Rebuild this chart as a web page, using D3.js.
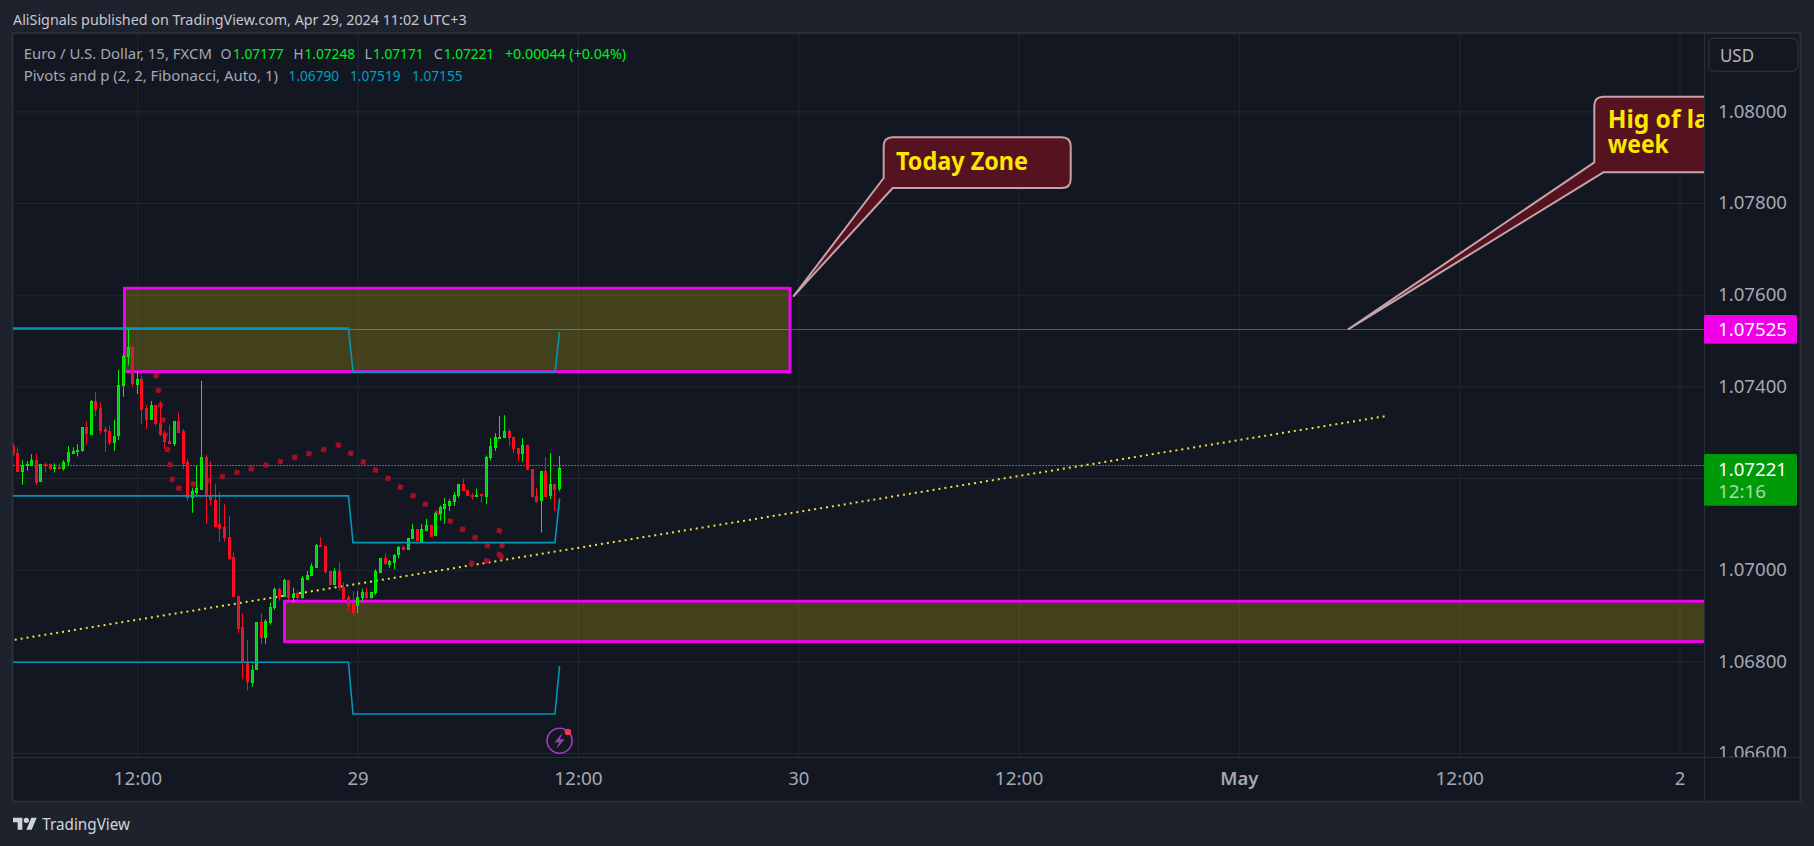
<!DOCTYPE html>
<html>
<head>
<meta charset="utf-8">
<title>EUR/USD 15</title>
<script src="https://cdn.jsdelivr.net/npm/d3@7"></script>
<style>
  html, body { margin: 0; padding: 0; background: #1e222d; overflow: hidden; }
  svg { display: block; }
  text { font-family: "Noto Sans", Lato, sans-serif; }
</style>
</head>
<body>
<div id="main"></div>
<script>
// bars are counted in 15 min steps from Apr 28 12:00
const firstBar = -27

const opens = [
  1.07270,1.07254,1.07214,1.07228,1.07228,1.07239,1.07192,1.07231,1.07231,1.07223,
  1.07225,1.07223,1.07236,1.07255,1.07260,1.07260,1.07311,1.07297,1.07369,1.07352,
  1.07306,1.07302,1.07279,1.07292,1.07402,1.07465,1.07485,1.07406,1.07417,1.07352,
  1.07329,1.07359,1.07319,1.07295,1.07281,1.07277,1.07324,1.07302,1.07234,1.07157,
  1.07170,1.07176,1.07245,1.07162,1.07153,1.07100,1.07092,1.07071,1.07027,1.06942,
  1.06874,1.06798,1.06756,1.06782,1.06885,1.06852,1.06886,1.06917,1.06957,1.06941,
  1.06977,1.06939,1.06948,1.06940,1.06980,1.06987,1.07006,1.07053,1.07051,1.06996,
  1.06967,1.06996,1.06963,1.06940,1.06924,1.06923,1.06939,1.06951,1.06939,1.06950,
  1.06995,1.07025,1.07013,1.07017,1.07033,1.07049,1.07044,1.07068,1.07088,1.07062,
  1.07087,1.07097,1.07074,1.07122,1.07135,1.07141,1.07148,1.07161,1.07186,1.07173,
  1.07162,1.07159,1.07164,1.07159,1.07244,1.07268,1.07288,1.07288,1.07302,1.07289,
  1.07265,1.07253,1.07271,1.07219,1.07161,1.07151,1.07215,1.07161,1.07186,1.07177
]
const highs = [
  1.07276,1.07267,1.07239,1.07237,1.07252,1.07252,1.07230,1.07233,1.07232,1.07232,
  1.07232,1.07239,1.07270,1.07267,1.07274,1.07311,1.07324,1.07370,1.07387,1.07365,
  1.07312,1.07315,1.07327,1.07436,1.07471,1.07527,1.07488,1.07432,1.07424,1.07359,
  1.07368,1.07359,1.07368,1.07304,1.07316,1.07324,1.07343,1.07307,1.07241,1.07179,
  1.07228,1.07412,1.07250,1.07237,1.07187,1.07169,1.07143,1.07117,1.07038,1.06942,
  1.06905,1.06846,1.06792,1.06885,1.06905,1.06892,1.06928,1.06961,1.06961,1.06980,
  1.06977,1.06961,1.06953,1.06986,1.06997,1.07014,1.07056,1.07071,1.07051,1.06996,
  1.07003,1.07017,1.06972,1.06944,1.06953,1.06953,1.06958,1.06961,1.06952,1.07001,
  1.07025,1.07036,1.07021,1.07034,1.07052,1.07052,1.07068,1.07100,1.07088,1.07099,
  1.07111,1.07097,1.07126,1.07140,1.07156,1.07154,1.07169,1.07187,1.07198,1.07173,
  1.07167,1.07177,1.07164,1.07249,1.07287,1.07298,1.07335,1.07337,1.07306,1.07289,
  1.07265,1.07287,1.07273,1.07219,1.07178,1.07215,1.07246,1.07254,1.07188,1.07248
]
const lows = [
  1.07247,1.07214,1.07185,1.07216,1.07226,1.07185,1.07192,1.07212,1.07217,1.07212,
  1.07223,1.07216,1.07227,1.07252,1.07247,1.07257,1.07272,1.07294,1.07335,1.07296,
  1.07257,1.07272,1.07259,1.07283,1.07377,1.07447,1.07399,1.07383,1.07318,1.07307,
  1.07327,1.07314,1.07292,1.07263,1.07277,1.07270,1.07301,1.07220,1.07150,1.07124,
  1.07159,1.07174,1.07100,1.07141,1.07092,1.07061,1.07061,1.07020,1.06941,1.06862,
  1.06761,1.06737,1.06745,1.06782,1.06838,1.06838,1.06880,1.06912,1.06932,1.06940,
  1.06934,1.06929,1.06929,1.06937,1.06980,1.06986,1.07006,1.07049,1.06991,1.06966,
  1.06966,1.06954,1.06934,1.06908,1.06900,1.06905,1.06930,1.06936,1.06937,1.06945,
  1.06995,1.07010,1.07004,1.07001,1.07025,1.07044,1.07044,1.07068,1.07062,1.07060,
  1.07085,1.07074,1.07074,1.07107,1.07100,1.07128,1.07139,1.07157,1.07172,1.07161,
  1.07153,1.07159,1.07146,1.07143,1.07238,1.07259,1.07288,1.07288,1.07270,1.07254,
  1.07237,1.07235,1.07219,1.07159,1.07146,1.07081,1.07161,1.07154,1.07128,1.07171
]
const closes = [
  1.07254,1.07214,1.07228,1.07231,1.07239,1.07192,1.07230,1.07229,1.07223,1.07224,
  1.07223,1.07236,1.07256,1.07259,1.07261,1.07311,1.07297,1.07369,1.07351,1.07305,
  1.07301,1.07279,1.07292,1.07402,1.07466,1.07485,1.07406,1.07417,1.07351,1.07329,
  1.07359,1.07319,1.07295,1.07280,1.07277,1.07324,1.07301,1.07233,1.07158,1.07171,
  1.07178,1.07245,1.07163,1.07153,1.07097,1.07092,1.07070,1.07026,1.06941,1.06873,
  1.06797,1.06756,1.06782,1.06885,1.06852,1.06887,1.06918,1.06957,1.06941,1.06977,
  1.06940,1.06946,1.06939,1.06981,1.06988,1.07007,1.07053,1.07052,1.06996,1.06967,
  1.06996,1.06962,1.06939,1.06923,1.06906,1.06940,1.06951,1.06939,1.06951,1.06996,
  1.07025,1.07013,1.07019,1.07033,1.07049,1.07044,1.07068,1.07088,1.07063,1.07088,
  1.07097,1.07074,1.07123,1.07136,1.07143,1.07149,1.07162,1.07186,1.07172,1.07161,
  1.07159,1.07162,1.07163,1.07245,1.07269,1.07289,1.07289,1.07302,1.07289,1.07264,
  1.07253,1.07271,1.07219,1.07159,1.07151,1.07215,1.07161,1.07186,1.07174,1.07221
]

// pivots indicator, flat per session with one bar of slope on the change
const pivotBars = [-30, 46, 47, 91, 92]
const pivotHigh = [1.07527, 1.07527, 1.07431, 1.07431, 1.07519]
const pivotMid  = [1.07161, 1.07161, 1.07059, 1.07059, 1.07155]
const pivotLow  = [1.06798, 1.06798, 1.06685, 1.06685, 1.06790]

// hand drawn curved arrow made of square dots
const dotBars = [4.07,4.6,5.09,5.6,6.1,6.62,7.12,7.63,9.02,12.2,15.33,18.52,21.72,24.84,27.97,31.16,34.3,37.41,40.6,43.81,
  46.49,49.24,51.94,54.62,57.32,60.07,62.75,65.44,68.2,70.88,73.59,76.27,78.87,78.87,79.46,79.3,76.13,72.85]
const dotPrices = [1.07423,1.07391,1.07359,1.07327,1.07294,1.07262,1.07229,1.07197,1.07178,1.07187,1.07195,1.07203,1.07212,1.07220,1.07228,1.07236,1.07245,1.07253,1.07262,1.07272,
  1.07254,1.07235,1.07217,1.07199,1.07180,1.07161,1.07143,1.07124,1.07106,1.07088,1.07070,1.07052,1.07033,1.07085,1.07053,1.07028,1.07019,1.07014]

const trendBars = [-28, 272]
const trendPrices = [1.06845, 1.07335]

const zoneFrom = [-2.79, 32.07]
const zoneTo = [142.2, 400]
const zoneTop = [1.07614, 1.06931]
const zoneBottom = [1.07432, 1.06843]

const levelPrice = 1.07525
const priceLinePrice = 1.07227

const priceTicks = [1.080, 1.078, 1.076, 1.074, 1.072, 1.070, 1.068, 1.066]
// 1.07200 sits behind the last price tag, so it gets a grid line but no label
const priceLabels = [1.080, 1.078, 1.076, 1.074, 1.070, 1.068, 1.066]
const timeBars = [0, 48, 96, 144, 192, 240, 288, 336]
const timeLabels = ["12:00", "29", "12:00", "30", "12:00", "May", "12:00", "2"]

const calloutBars = [143, 263.9]
const calloutPrices = [1.07597, 1.07525]

let width = 1814, height = 846
let plotLeft = 13, plotRight = 1704, plotTop = 33.5, plotBottom = 757, frameRight = 1800.5, frameBottom = 801.5

let bg = "#1e222d", pane = "#131722", gridCol = "#232733", frameCol = "#2a2e39", axisText = "#a5a8b2"
let upCol = "#00f000", upFill = "#00c81e", downCol = "#ff0a1e", downFill = "#cc2036"
let axisSize = "18.5px"

let xScale = d3.scaleLinear().domain([0, 336]).range([137.3, 1679.5])
let yScale = d3.scaleLinear().domain([1.066, 1.08]).range([752.95, 111.4])

let svg = d3.select("#main").append("svg").attr("width", width).attr("height", height)

let defs = svg.append("defs")
defs.append("clipPath").attr("id", "plot").append("rect")
    .attr("x", plotLeft).attr("y", plotTop).attr("width", plotRight - plotLeft).attr("height", plotBottom - plotTop)
defs.append("clipPath").attr("id", "yaxis").append("rect")
    .attr("x", 0).attr("y", plotTop).attr("width", frameRight - plotRight).attr("height", plotBottom - plotTop)

svg.append("rect").attr("width", width).attr("height", height).style("fill", bg)
svg.append("rect")
    .attr("x", plotLeft - 0.5).attr("y", plotTop - 0.5)
    .attr("width", frameRight - plotLeft + 0.5).attr("height", frameBottom - plotTop + 0.5)
    .style("fill", pane).style("stroke", frameCol).style("stroke-width", 2)

// grid from the same axes
let yGrid = d3.axisLeft(yScale).tickValues(priceTicks).tickSize(-(plotRight - plotLeft)).tickFormat("")
svg.append("g").attr("class", "grid").attr("transform", `translate(${plotLeft},0)`).call(yGrid)
let xGrid = d3.axisBottom(xScale).tickValues(timeBars).tickSize(-(plotBottom - plotTop)).tickFormat("")
svg.append("g").attr("class", "grid").attr("transform", `translate(0,${plotBottom})`).call(xGrid)
svg.selectAll(".grid .domain").remove()
svg.selectAll(".grid line").style("stroke", gridCol)

let plot = svg.append("g").attr("clip-path", "url(#plot)")

// level line and zones
let ly = Math.floor(yScale(levelPrice)) + 0.5
plot.append("line")
    .attr("x1", plotLeft).attr("x2", plotRight)
    .attr("y1", ly).attr("y2", ly)
    .style("stroke", "#d800d8").style("stroke-width", 1)

plot.selectAll(".zone")
    .data(zoneFrom)
    .enter()
    .append("rect")
    .classed("zone", true)
    .attr("x", (d) => xScale(d))
    .attr("y", (d, i) => yScale(zoneTop[i]))
    .attr("width", (d, i) => xScale(zoneTo[i]) - xScale(d))
    .attr("height", (d, i) => yScale(zoneBottom[i]) - yScale(zoneTop[i]))
    .style("fill", "rgba(255,235,0,0.2)")
    .style("stroke", "#f000f0").style("stroke-width", 3)

// last price line, blue and red dots side by side
let py = Math.floor(yScale(priceLinePrice)) + 0.5
plot.append("line").attr("x1", plotLeft).attr("x2", plotRight).attr("y1", py).attr("y2", py)
    .style("stroke", "#2962ff").style("stroke-width", 1).style("stroke-dasharray", "1 2")
plot.append("line").attr("x1", plotLeft + 1).attr("x2", plotRight).attr("y1", py).attr("y2", py)
    .style("stroke", "#d0406a").style("stroke-width", 1).style("stroke-dasharray", "1 2")

// trend line
plot.append("line")
    .attr("x1", xScale(trendBars[0])).attr("x2", xScale(trendBars[1]))
    .attr("y1", yScale(trendPrices[0])).attr("y2", yScale(trendPrices[1]))
    .style("stroke", "#f2e13c").style("stroke-width", 2).style("stroke-dasharray", "2 4")

// square dots of the arrow
let square = d3.symbol().type(d3.symbolSquare).size(26)
plot.selectAll(".dot")
    .data(dotBars)
    .enter()
    .append("path")
    .classed("dot", true)
    .attr("d", square)
    .attr("transform", (d, i) => `translate(${xScale(d)},${yScale(dotPrices[i])}) rotate(15)`)
    .style("fill", "#a50f25")

// candles
let bars = opens.map((o, i) => ({ bar: firstBar + i, o: o, h: highs[i], l: lows[i], c: closes[i] }))
let cx = (d) => Math.floor(xScale(d.bar)) + 0.5
let candle = plot.selectAll(".candle")
    .data(bars)
    .enter()
    .append("g")
    .classed("candle", true)
candle.append("line")
    .attr("x1", cx).attr("x2", cx)
    .attr("y1", (d) => yScale(d.h)).attr("y2", (d) => yScale(d.l))
    .style("stroke", (d) => d.c >= d.o ? upCol : downCol)
candle.append("rect")
    .attr("x", (d) => cx(d) - 1).attr("width", 2)
    .attr("y", (d) => Math.round(yScale(Math.max(d.o, d.c))) + 0.5)
    .attr("height", (d) => Math.max(1, Math.round(Math.abs(yScale(d.o) - yScale(d.c)))))
    .style("fill", (d) => d.c >= d.o ? upFill : downFill)
    .style("stroke", (d) => d.c >= d.o ? upCol : downCol)

// pivots
let pivotLine = d3.line().x((d) => xScale(d[0])).y((d) => yScale(d[1]))
;[pivotHigh, pivotMid, pivotLow].forEach((series) => {
    plot.append("path")
        .attr("d", pivotLine(series.map((v, i) => [pivotBars[i], v])))
        .style("fill", "none").style("stroke", "#0097b4").style("stroke-width", 1.6)
})

// callouts
function callout (i, x0, x1, y0, y1) {
    let r = 9
    let tx = xScale(calloutBars[i]), ty = yScale(calloutPrices[i])
    let d = `M${x0 + r},${y0} L${x1 - r},${y0} Q${x1},${y0} ${x1},${y0 + r} L${x1},${y1 - r} Q${x1},${y1} ${x1 - r},${y1}
             L${x0 + 9},${y1} L${tx},${ty} L${x0},${y1 - 10} L${x0},${y0 + r} Q${x0},${y0} ${x0 + r},${y0} Z`
    plot.append("path").attr("d", d)
        .style("fill", "#55121f").style("stroke", "#c4a3aa").style("stroke-width", 2).style("stroke-linejoin", "round")
}
callout(0, 883.7, 1070.7, 137.3, 188)
callout(1, 1594.3, 1780, 96.7, 172.3)

function note (str, x, y, len) {
    plot.append("text").attr("x", x).attr("y", y).text(str)
        .attr("textLength", len).attr("lengthAdjust", "spacingAndGlyphs")
        .style("fill", "#ffe600").style("font-size", "24.5px").style("font-weight", 700)
}
note("Today Zone", 896, 170, 132)
note("Hig of last", 1607.7, 128, 124)
note("week", 1607.7, 153.3, 61)

// lightning icon under the last bar
let bolt = plot.append("g").attr("transform", `translate(${xScale(92)},740.7)`)
bolt.append("circle").attr("r", 12.5)
    .style("fill", "none").style("stroke", "#9c3dbb").style("stroke-width", 1.6)
bolt.append("path").attr("d", "M3,-8 L-5,1.5 L-0.5,1.5 L-3,8 L5,-1.5 L0.5,-1.5 Z").style("fill", "#9c3dbb")
bolt.append("circle").attr("cx", 8.3).attr("cy", -8.7).attr("r", 3.3).style("fill", "#f23645")

// price axis
svg.append("line").attr("x1", plotRight + 0.5).attr("x2", plotRight + 0.5).attr("y1", plotTop).attr("y2", frameBottom)
    .style("stroke", frameCol)
svg.append("line").attr("x1", plotLeft).attr("x2", frameRight).attr("y1", plotBottom + 0.5).attr("y2", plotBottom + 0.5)
    .style("stroke", frameCol)

let yAxis = d3.axisRight(yScale).tickValues(priceLabels).tickSize(0).tickPadding(14).tickFormat(d3.format(".5f"))
let yg = svg.append("g").attr("transform", `translate(${plotRight},0)`)
yg.attr("clip-path", "url(#yaxis)").call(yAxis)
yg.select(".domain").remove()
yg.selectAll("text").style("font-family", "Noto Sans").style("font-size", axisSize).style("fill", axisText)
    .attr("textLength", 69).attr("lengthAdjust", "spacingAndGlyphs")

let xAxis = d3.axisBottom(xScale).tickValues(timeBars).tickSize(0).tickPadding(15)
    .tickFormat((d, i) => timeLabels[i])
let xg = svg.append("g").attr("transform", `translate(0,${plotBottom})`).call(xAxis)
xg.select(".domain").remove()
xg.selectAll("text").style("font-family", "Noto Sans").style("font-size", axisSize).style("fill", axisText)
    .style("font-weight", (d, i) => timeLabels[i] === "May" ? 600 : 400)
    .attr("textLength", (d, i) => timeLabels[i] === "12:00" ? 48.5 : null)
    .attr("lengthAdjust", "spacingAndGlyphs")

// USD button
svg.append("rect").attr("x", 1708.7).attr("y", 38.3).attr("width", 89).attr("height", 33).attr("rx", 5)
    .style("fill", pane).style("stroke", frameCol).style("stroke-width", 1.5)
svg.append("text").attr("x", 1720).attr("y", 61.6).text("USD")
    .attr("textLength", 34).attr("lengthAdjust", "spacingAndGlyphs")
    .style("font-size", axisSize).style("fill", "#b2b5be")

// price tags on the axis
function tag (str, y, len, col) {
    svg.append("text").attr("x", 1718).attr("y", y).text(str)
        .attr("textLength", len).attr("lengthAdjust", "spacingAndGlyphs")
        .style("font-size", axisSize).style("fill", col)
}
svg.append("rect").attr("x", plotRight).attr("y", 315).attr("width", 93).attr("height", 28.7).attr("rx", 1.5).style("fill", "#f000e8")
tag(levelPrice.toFixed(5), 336, 69, "#ffffff")
svg.append("rect").attr("x", plotRight).attr("y", 454).attr("width", 93).attr("height", 51.7).attr("rx", 1.5).style("fill", "#009a08")
tag(closes[closes.length - 1].toFixed(5), 475.6, 69, "#ffffff")
tag("12:16", 498.3, 48, "#a6dca8")

// header and legend
function label (str, x, y, len, col, size) {
    return svg.append("text").attr("x", x).attr("y", y).text(str)
        .attr("textLength", len).attr("lengthAdjust", "spacingAndGlyphs")
        .style("font-size", (size || 15) + "px").style("fill", col)
}
label("AliSignals published on TradingView.com, Apr 29, 2024 11:02 UTC+3", 13, 25.3, 453.6, "#c5c8d0")

let legendGrey = "#a5a8b2", legendGreen = "#00f020", legendBlue = "#009fc4"
label("Euro / U.S. Dollar, 15, FXCM", 23.7, 58.8, 188.3, legendGrey)
label("O", 220.6, 58.8, 11, legendGrey)
label("1.07177", 233, 58.8, 50.5, legendGreen)
label("H", 293.4, 58.8, 10, legendGrey)
label("1.07248", 304.5, 58.8, 50.5, legendGreen)
label("L", 364.6, 58.8, 7.5, legendGrey)
label("1.07171", 373, 58.8, 50.5, legendGreen)
label("C", 433.8, 58.8, 9, legendGrey)
label("1.07221", 443.7, 58.8, 50.5, legendGreen)
label("+0.00044 (+0.04%)", 505, 58.8, 121, legendGreen)
label("Pivots and p (2, 2, Fibonacci, Auto, 1)", 23.7, 80.5, 254.3, legendGrey)
label("1.06790", 288.6, 80.5, 50.5, legendBlue)
label("1.07519", 350, 80.5, 50.5, legendBlue)
label("1.07155", 412, 80.5, 50.5, legendBlue)

// TradingView mark
let logo = svg.append("g").attr("transform", "translate(13,815) scale(0.667)").style("fill", "#d1d4dc")
logo.append("path").attr("d", "M14 22H7V11H0V4h14v18zM28 22h-8l7.5-18h8L28 22z")
logo.append("circle").attr("cx", 20).attr("cy", 8).attr("r", 4)
label("TradingView", 42.3, 829.5, 87.7, "#d1d4dc", 16)
</script>
</body>
</html>
